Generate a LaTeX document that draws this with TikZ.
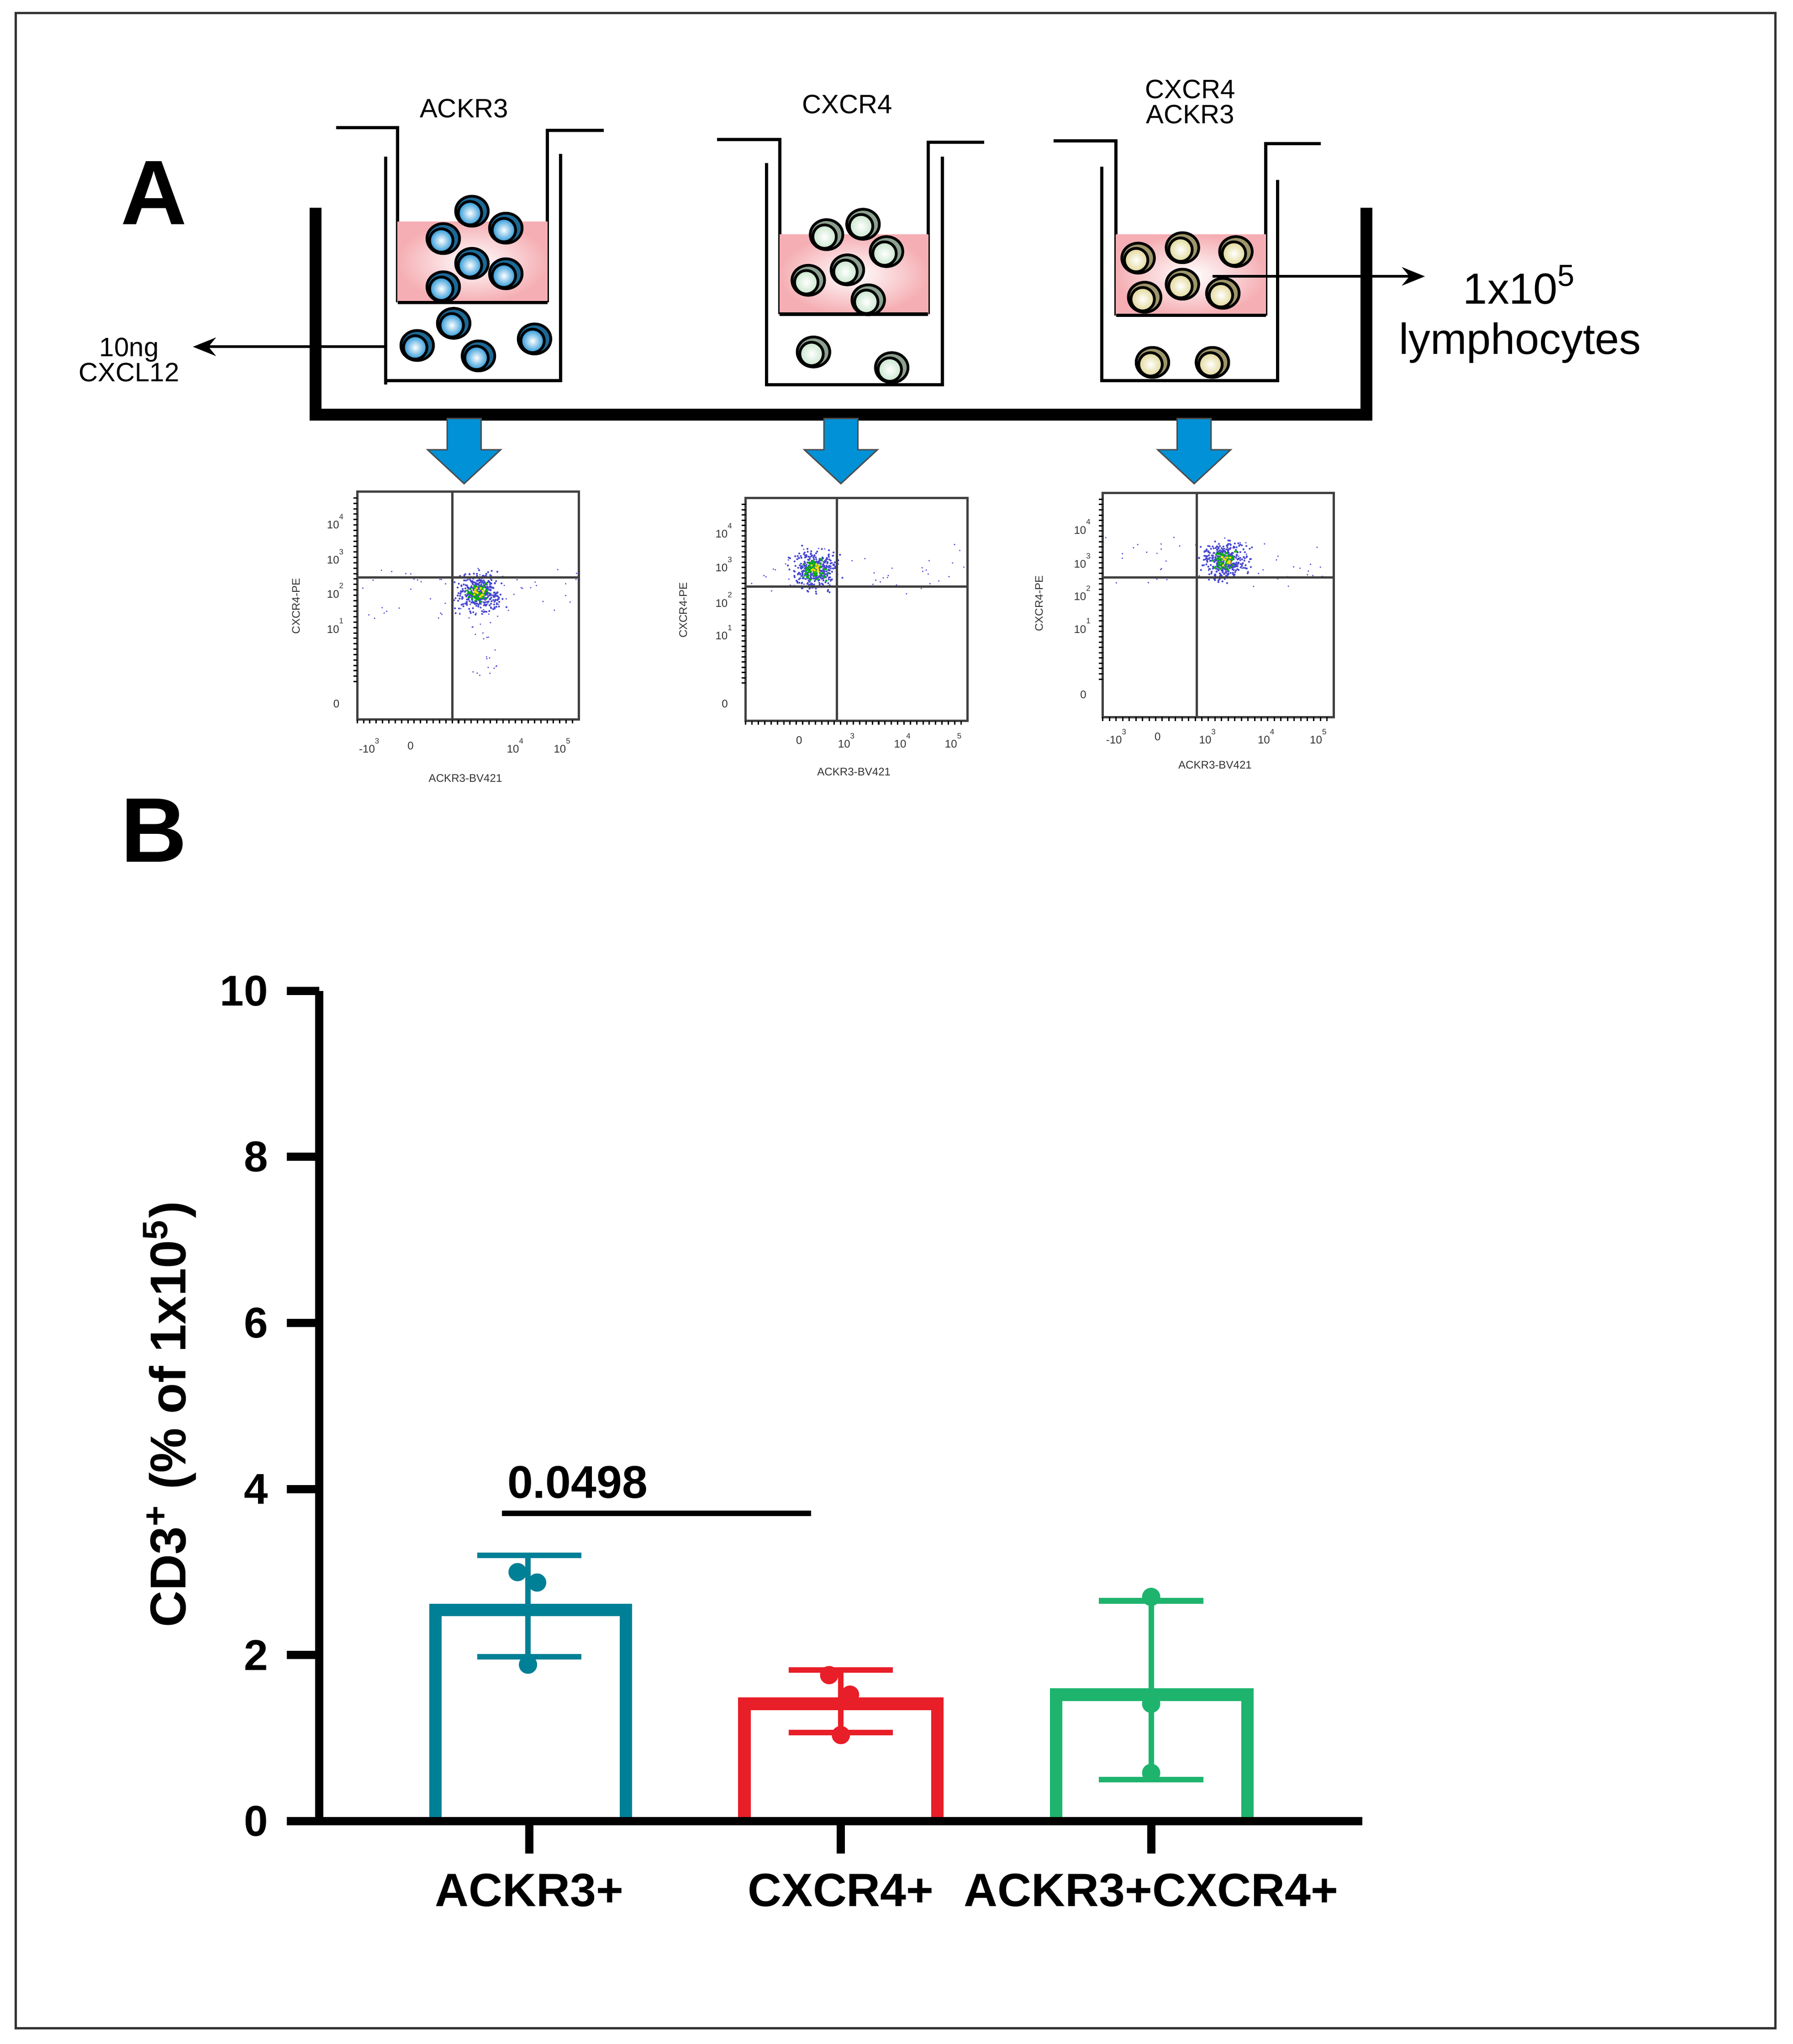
\documentclass[tikz,border=0pt]{standalone}
\usepackage{fontspec}
\setmainfont{Liberation Sans}
\usetikzlibrary{arrows.meta}
\definecolor{cblue}{RGB}{40,150,215}
\definecolor{cgreen}{RGB}{200,230,205}
\definecolor{cyel}{RGB}{225,215,150}
\definecolor{pinkm}{RGB}{245,175,180}
\definecolor{arrblue}{RGB}{0,145,215}
\definecolor{teal}{RGB}{0,128,150}
\definecolor{bred}{RGB}{232,30,40}
\definecolor{bgreen}{RGB}{30,180,110}
\definecolor{dotb}{RGB}{70,70,210}
\newcommand\mycell[3]{%
  \fill[#3!70!black] (#1,#2) ellipse (12.5 and 11.5);
  \draw[line width=0.6pt] (#1,#2) ellipse (12.5 and 11.5);
  \shade[inner color=white,outer color=#3] (#1-1.5,#2+1.5) circle (9);
  \draw[line width=0.6pt] (#1-1.5,#2+1.5) circle (9);}
\newcommand\mywell[7]{%
  \draw[line width=0.7pt] (#1,#5)--(#2,#5)--(#2,#7);
  \draw[line width=0.7pt] (#4,#5+2)--(#3,#5+2)--(#3,#7);
  \shade[inner color=white,outer color=pinkm] (#2,#6) rectangle (#3,#7);
  \draw[line width=0.7pt] (#2,#7)--(#3,#7);}
\tikzset{lbl/.style={font=\fontsize{5.8pt}{6.5pt}\selectfont,align=center},
  fl/.style={font=\fontsize{2.4pt}{2.6pt}\selectfont,text=black!80},
  bigarr/.style={fill=arrblue,draw=black!70,line width=0.3pt},
  ax/.style={line width=1.8pt},
  tk/.style={font=\bfseries\fontsize{9.4pt}{10pt}\selectfont,anchor=east},
  cat/.style={font=\bfseries\fontsize{10.2pt}{12pt}\selectfont}}
\begin{document}
\begin{tikzpicture}[x=0.01cm,y=-0.01cm]
\useasboundingbox (0,0) rectangle (1375,1568);
\draw[line width=0.5pt,black!80] (12,10) rectangle (1362,1556);
\node[font=\bfseries\fontsize{20pt}{22pt}\selectfont] (A) at (118,148) {A};
\node[font=\bfseries\fontsize{20pt}{22pt}\selectfont] (B) at (118,637) {B};
% tray
\draw[line width=2.6pt,line cap=rect] (242,164)--(242,318)--(1048,318)--(1048,164);
% wells
\mywell{258}{305}{420}{463}{98}{170}{232}
\draw[line width=0.7pt] (296,120)--(296,295) (296,292)--(430,292)--(430,118);
\mywell{550}{598}{712}{755}{107}{180}{241}
\draw[line width=0.7pt] (588,125)--(588,295)--(723,295)--(723,120);
\mywell{808}{856}{971}{1013}{108}{180}{242}
\draw[line width=0.7pt] (845,128)--(845,292)--(980,292)--(980,138);
\foreach \x/\y in {362/162,388/175,340/183,362/202,388/210,340/220,348/248,320/265,367/273,410/260} {\mycell{\x}{\y}{cblue}}
\foreach \x/\y in {634/180,662/172,680/193,650/207,620/215,666/230,624/270,684/282} {\mycell{\x}{\y}{cgreen}}
\foreach \x/\y in {873/198,907/190,948/193,878/228,907/218,938/225,884/278,930/278} {\mycell{\x}{\y}{cyel}}
\node[lbl] (l1) at (356,83) {ACKR3};
\node[lbl] (l2) at (650,80) {CXCR4};
\node[lbl] (l3) at (913,78) {CXCR4\\[-1pt]ACKR3};
\coordinate (wl) at (296,266);
\node[lbl,anchor=east] (cx) at (150,276) {10ng\\[-1pt]CXCL12};
\draw[line width=0.6pt,-{Stealth[length=5pt,width=4pt]}] (wl) -- (148,266);
\coordinate (w3) at (930,212);
\node[font=\fontsize{9.5pt}{11pt}\selectfont,align=center] (ly) at (1166,241) {1x10\textsuperscript{5}\\lymphocytes};
\draw[line width=0.6pt,-{Stealth[length=5pt,width=4pt]}] (w3) -- (1093,212);
% blue arrows
\foreach \c in {356,645,916}{
 \draw[bigarr] (\c-13,321)--(\c+13,321)--(\c+13,345)--(\c+28,345)--(\c,371)--(\c-28,345)--(\c-13,345)--cycle;}
% flow plots
\newcommand\flow[9]{%
  \draw[line width=0.5pt,black!75] (#1,#2) rectangle (#3,#4);
  \pgfmathsetseed{#9}
  \foreach \i in {1,...,380}{
    \pgfmathsetmacro\dx{8*(rand+rand+rand)}
    \pgfmathsetmacro\dy{7*(rand+rand+rand)}
    \fill[dotb] ({#7+\dx},{#8+\dy}) circle (0.75);}
  \foreach \i in {1,...,70}{
    \pgfmathsetmacro\dx{5*(rand+rand)}
    \pgfmathsetmacro\dy{4.5*(rand+rand)}
    \fill[green!70!black] ({#7+\dx},{#8+\dy}) circle (0.8);}
  \foreach \i in {1,...,12}{
    \pgfmathsetmacro\dx{4*(rand)}
    \pgfmathsetmacro\dy{4*(rand)}
    \fill[yellow!80!orange] ({#7+\dx},{#8+\dy}) circle (0.9);}
  \foreach \i in {1,...,50}{
    \pgfmathsetmacro\dx{(#3-#1)/2*rand}
    \pgfmathsetmacro\dy{20*rand}
    \fill[dotb] ({(#1+#3)/2+\dx},{#8+\dy}) circle (0.6);}
  \draw[line width=0.5pt,black!75] (#5,#2)--(#5,#4) (#1,#6)--(#3,#6);
  \foreach \i in {0,...,34}{\draw[line width=0.3pt] ({#1+\i*(#3-#1)/35},#4)--++(0,3);}
  \foreach \i in {0,...,34}{\draw[line width=0.3pt] (#1,{#2+5+\i*(#4-#2-30)/35})--++(-3,0);}
}
\flow{274}{377}{444}{552}{347}{443}{367}{455}{11}
\foreach \i in {1,...,30}{\pgfmathsetmacro\dx{12*rand}\pgfmathsetmacro\dy{460+60*rnd}\fill[dotb] ({372+\dx},\dy) circle (0.6);}
\flow{572}{382}{742}{553}{642}{450}{625}{437}{23}
\flow{846}{378}{1023}{550}{918}{443}{940}{430}{37}
\foreach \x/\yy/\t in {262/400/4,262/427/3,262/453/2,262/480/1,560/407/4,560/433/3,560/460/2,560/485/1,835/404/4,835/430/3,835/455/2,835/480/1}{\node[fl] at (\x-4,\yy) {10\textsuperscript{\t}};}
\node[fl] at (258,540) {0};\node[fl] at (556,540) {0};\node[fl] at (831,533) {0};
\foreach \x/\yy/\t in {284/572/-10\textsuperscript{3},315/572/0,396/572/10\textsuperscript{4},432/572/10\textsuperscript{5},613/568/0,650/568/10\textsuperscript{3},693/568/10\textsuperscript{4},732/568/10\textsuperscript{5},857/565/-10\textsuperscript{3},888/565/0,927/565/10\textsuperscript{3},972/565/10\textsuperscript{4},1012/565/10\textsuperscript{5}}{\node[fl] at (\x,\yy) {\t};}
\node[fl,rotate=90] (y1) at (227,465) {CXCR4-PE};
\node[fl,rotate=90] (y2) at (524,468) {CXCR4-PE};
\node[fl,rotate=90] (y3) at (797,463) {CXCR4-PE};
\node[fl] (x1) at (357,597) {ACKR3-BV421};
\node[fl] (x2) at (655,592) {ACKR3-BV421};
\node[fl] (x3) at (932,587) {ACKR3-BV421};
% bar chart
\draw[ax] (245,760)--(245,1397);
\foreach \v in {0,2,...,10}{
  \draw[ax] (220,{1397-63.7*\v})--(245,{1397-63.7*\v});
  \node[tk] at (218,{1397-63.7*\v}) {\v};}
\node[font=\bfseries\fontsize{11pt}{12pt}\selectfont,rotate=90] (yl) at (130,1085) {CD3\textsuperscript{+} (\% of 1x10\textsuperscript{5})};
\draw[line width=2.7pt,teal] (334,1397)--(334,1235)--(480,1235)--(480,1397);
\draw[line width=2.7pt,bred] (571,1397)--(571,1307)--(719,1307)--(719,1397);
\draw[line width=2.7pt,bgreen] (810,1397)--(810,1300)--(957,1300)--(957,1397);
\draw[ax] (220,1397)--(1045,1397);
\draw[line width=1.2pt,teal] (405,1271)--(405,1193) (366,1193)--(446,1193) (366,1271)--(446,1271);
\draw[line width=1.2pt,bred] (645,1329)--(645,1281) (605,1281)--(685,1281) (605,1329)--(685,1329);
\draw[line width=1.2pt,bgreen] (883,1365)--(883,1228) (843,1228)--(923,1228) (843,1365)--(923,1365);
\foreach \x/\y in {397/1206,412/1214,405/1277}{\fill[teal] (\x,\y) circle (7);}
\foreach \x/\y in {636/1285,652/1300,645/1331}{\fill[bred] (\x,\y) circle (7);}
\foreach \x/\y in {883/1225,883/1307,883/1360}{\fill[bgreen] (\x,\y) circle (7);}
\foreach \x in {406,645,883}{\draw[ax] (\x,1397)--(\x,1422);}
\node[cat] (c1) at (406,1450) {ACKR3+};
\node[cat] (c2) at (645,1450) {CXCR4+};
\node[cat] (c3) at (883,1450) {ACKR3+CXCR4+};
\draw[line width=1.2pt] (385,1161)--(622,1161);
\node[font=\bfseries\fontsize{10pt}{11pt}\selectfont] (p) at (443,1137) {0.0498};
\end{tikzpicture}
\end{document}
